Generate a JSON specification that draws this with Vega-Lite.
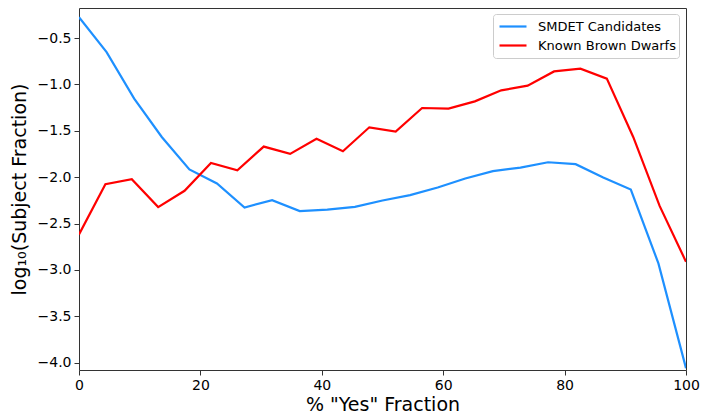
{
  "$schema": "https://vega.github.io/schema/vega-lite/v6.json",
  "width": 607,
  "height": 362,
  "autosize": {"type": "none"},
  "padding": {"left": 79, "top": 8, "right": 15, "bottom": 43},
  "background": "white",
  "config": {
    "font": "DejaVu Sans",
    "view": {"stroke": "#333333", "strokeWidth": 1},
    "axis": {"grid": false, "domain": false, "tickColor": "#333333", "tickSize": 5, "labelColor": "#000000", "titleColor": "#000000", "labelFontSize": 14, "titleFontSize": 19, "titleFontWeight": "normal", "labelPadding": 3, "labelFlush": false}
  },
  "data": {"values": [
    {"series": "SMDET Candidates", "x": 0, "y": -0.274},
    {"series": "SMDET Candidates", "x": 4.545, "y": -0.651},
    {"series": "SMDET Candidates", "x": 9.091, "y": -1.153},
    {"series": "SMDET Candidates", "x": 13.636, "y": -1.566},
    {"series": "SMDET Candidates", "x": 18.182, "y": -1.917},
    {"series": "SMDET Candidates", "x": 22.727, "y": -2.068},
    {"series": "SMDET Candidates", "x": 27.273, "y": -2.327},
    {"series": "SMDET Candidates", "x": 31.818, "y": -2.248},
    {"series": "SMDET Candidates", "x": 36.364, "y": -2.366},
    {"series": "SMDET Candidates", "x": 40.909, "y": -2.350},
    {"series": "SMDET Candidates", "x": 45.455, "y": -2.320},
    {"series": "SMDET Candidates", "x": 50.0, "y": -2.252},
    {"series": "SMDET Candidates", "x": 54.545, "y": -2.194},
    {"series": "SMDET Candidates", "x": 59.091, "y": -2.111},
    {"series": "SMDET Candidates", "x": 63.636, "y": -2.014},
    {"series": "SMDET Candidates", "x": 68.182, "y": -1.935},
    {"series": "SMDET Candidates", "x": 72.727, "y": -1.896},
    {"series": "SMDET Candidates", "x": 77.273, "y": -1.839},
    {"series": "SMDET Candidates", "x": 81.818, "y": -1.860},
    {"series": "SMDET Candidates", "x": 86.364, "y": -2.003},
    {"series": "SMDET Candidates", "x": 90.909, "y": -2.133},
    {"series": "SMDET Candidates", "x": 95.455, "y": -2.930},
    {"series": "SMDET Candidates", "x": 100, "y": -4.06},
    {"series": "Known Brown Dwarfs", "x": 0, "y": -2.617},
    {"series": "Known Brown Dwarfs", "x": 4.348, "y": -2.076},
    {"series": "Known Brown Dwarfs", "x": 8.696, "y": -2.022},
    {"series": "Known Brown Dwarfs", "x": 13.043, "y": -2.323},
    {"series": "Known Brown Dwarfs", "x": 17.391, "y": -2.147},
    {"series": "Known Brown Dwarfs", "x": 21.739, "y": -1.846},
    {"series": "Known Brown Dwarfs", "x": 26.087, "y": -1.925},
    {"series": "Known Brown Dwarfs", "x": 30.435, "y": -1.670},
    {"series": "Known Brown Dwarfs", "x": 34.783, "y": -1.749},
    {"series": "Known Brown Dwarfs", "x": 39.130, "y": -1.585},
    {"series": "Known Brown Dwarfs", "x": 43.478, "y": -1.720},
    {"series": "Known Brown Dwarfs", "x": 47.826, "y": -1.462},
    {"series": "Known Brown Dwarfs", "x": 52.174, "y": -1.508},
    {"series": "Known Brown Dwarfs", "x": 56.522, "y": -1.254},
    {"series": "Known Brown Dwarfs", "x": 60.870, "y": -1.261},
    {"series": "Known Brown Dwarfs", "x": 65.217, "y": -1.182},
    {"series": "Known Brown Dwarfs", "x": 69.565, "y": -1.063},
    {"series": "Known Brown Dwarfs", "x": 73.913, "y": -1.013},
    {"series": "Known Brown Dwarfs", "x": 78.261, "y": -0.859},
    {"series": "Known Brown Dwarfs", "x": 82.609, "y": -0.830},
    {"series": "Known Brown Dwarfs", "x": 86.957, "y": -0.937},
    {"series": "Known Brown Dwarfs", "x": 91.304, "y": -1.566},
    {"series": "Known Brown Dwarfs", "x": 95.652, "y": -2.310},
    {"series": "Known Brown Dwarfs", "x": 100, "y": -2.912}
  ]},
  "mark": {"type": "line", "strokeWidth": 2.2, "clip": true},
  "encoding": {
    "x": {"field": "x", "type": "quantitative", "scale": {"domain": [0, 100], "nice": false, "zero": false},
      "axis": {"values": [0, 20, 40, 60, 80, 100], "title": "% \"Yes\" Fraction", "format": "d", "titlePadding": 3}},
    "y": {"field": "y", "type": "quantitative", "scale": {"domain": [-4.08, -0.175], "nice": false, "zero": false},
      "axis": {"values": [-4.0, -3.5, -3.0, -2.5, -2.0, -1.5, -1.0, -0.5], "format": ".1f", "title": "log₁₀(Subject Fraction)", "titlePadding": 8}},
    "color": {"field": "series", "type": "nominal",
      "scale": {"domain": ["SMDET Candidates", "Known Brown Dwarfs"], "range": ["#1E90FF", "#FF0000"]},
      "legend": {"title": null, "orient": "none", "legendX": 414, "legendY": 6, "symbolType": "stroke", "symbolSize": 729, "symbolStrokeWidth": 2.2, "clipHeight": 19, "labelFontSize": 13, "labelColor": "#000000", "fillColor": "white", "strokeColor": "#cccccc", "cornerRadius": 3, "padding": 3, "rowPadding": 0, "symbolOffset": 2, "labelOffset": 10}
    }
  }
}
